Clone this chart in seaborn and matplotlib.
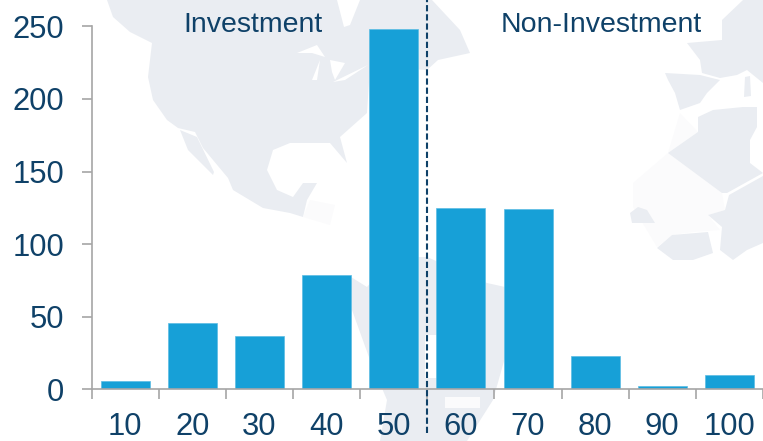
"""Rating distribution bars, investment vs non-investment, over a pale world map."""
import matplotlib
matplotlib.use('Agg')
import matplotlib.pyplot as plt
import numpy as np
import pandas as pd
import seaborn as sns
from matplotlib.patches import Polygon

SCORES = ['10', '20', '30', '40', '50', '60', '70', '80', '90', '100']
COUNTS = [6, 46, 37, 79, 248, 125, 124, 23, 2, 10]
Y_TICKS = [0, 50, 100, 150, 200, 250]

BAR = '#17a0d7'
BAR_EDGE = '#5cbce3'
INK = '#0f4168'
AXIS = '#a6a6a6'
LAND = '#eaedf2'
PALE = '#fbfbfc'
W, H = 763, 441

# backdrop outlines, in picture pixels
LAND_SHAPES = [
    # north america
    (LAND, [(107, 0), (113, 17), (130, 32), (152, 43), (148, 77), (153, 100), (167, 120), (178, 128),
            (195, 132), (203, 148), (228, 178), (233, 190), (263, 208), (290, 213), (303, 217), (307, 200),
            (317, 183), (303, 183), (293, 197), (277, 190), (267, 170), (273, 150), (290, 143), (330, 143),
            (347, 163), (340, 137), (367, 113), (370, 67), (427, 70), (438, 60), (470, 53), (460, 30),
            (432, 0)]),
    (LAND, [(180, 130), (188, 150), (213, 175), (214, 172), (197, 137)]),
    (PALE, [(303, 217), (330, 225), (335, 205), (310, 200)]),
    # south america
    (LAND, [(351, 277), (367, 287), (373, 280), (413, 257), (427, 257), (487, 283), (505, 287), (510, 340),
            (493, 400), (467, 441), (380, 441), (387, 400), (370, 360), (352, 310)]),
    ('white', [(425, 335), (438, 335), (438, 378), (425, 378)]),
    (PALE, [(445, 397), (480, 397), (480, 408), (445, 408)]),
    # europe and africa
    (PALE, [(668, 153), (633, 183), (633, 207), (657, 247), (672, 235), (693, 232), (720, 230), (708, 215),
            (725, 210), (722, 193), (698, 132), (680, 113)]),
    (LAND, [(687, 43), (722, 40), (722, 20), (743, 0), (763, 0), (763, 83), (747, 70), (737, 75), (720, 78),
            (702, 73), (700, 60)]),
    (LAND, [(745, 77), (750, 76), (751, 96), (744, 97)]),
    (LAND, [(665, 73), (700, 75), (720, 80), (707, 93), (700, 103), (680, 110), (675, 93), (668, 80)]),
    (LAND, [(668, 153), (698, 132), (698, 117), (713, 110), (743, 107), (757, 107), (757, 127), (750, 140),
            (750, 163), (763, 173), (727, 193), (722, 193)]),
    (LAND, [(763, 176), (729, 195), (725, 210), (708, 215), (722, 227), (720, 250), (733, 260), (747, 250),
            (763, 243)]),
    (LAND, [(630, 213), (638, 207), (647, 210), (655, 223), (632, 223)]),
    (LAND, [(657, 248), (672, 235), (708, 232), (713, 253), (693, 260), (673, 260)]),
    # great lakes and hudson bay
    ('white', [(297, 53), (317, 45), (325, 57), (312, 53)]),
    ('white', [(312, 80), (320, 60), (317, 80)]),
    ('white', [(330, 60), (345, 63), (335, 80), (332, 72)]),
    ('white', [(333, 82), (368, 65), (345, 80)]),
    ('white', [(337, 0), (360, 0), (350, 25), (344, 27)]),
]


def _draw_map(fig):
    back = fig.add_axes([0, 0, 1, 1], zorder=0)
    back.set_xlim(0, W)
    back.set_ylim(H, 0)
    back.set_axis_off()
    for color, pts in LAND_SHAPES:
        back.add_patch(Polygon(pts, closed=True, facecolor=color, edgecolor='none'))


def main():
    sns.set_theme(style='white')
    plt.rcParams['font.family'] = ['Liberation Sans', 'DejaVu Sans']

    df = pd.DataFrame({'score': SCORES, 'count': COUNTS})

    fig = plt.figure(figsize=(W / 100, H / 100), dpi=100, facecolor='white')
    _draw_map(fig)

    ax = fig.add_axes([91.7 / W, (H - 389.3) / H, (763 - 91.7) / W, (389.3 - 26.4) / H], zorder=1)
    ax.patch.set_alpha(0)
    sns.barplot(data=df, x='score', y='count', color=BAR, saturation=1, width=0.73,
                edgecolor=BAR_EDGE, linewidth=0.5, ax=ax)

    ax.set_xlim(-0.5, len(SCORES) - 0.5)
    ax.set_ylim(Y_TICKS[0], Y_TICKS[-1])
    ax.set_xlabel('')
    ax.set_ylabel('')

    # ticks sit between the bars, labels under the bars
    ax.set_xticks(np.arange(len(SCORES) + 1) - 0.5, labels=[''] * (len(SCORES) + 1))
    ax.set_xticks(np.arange(len(SCORES)), labels=SCORES, minor=True)
    ax.set_yticks(Y_TICKS)
    ax.tick_params(axis='x', which='major', length=7, width=1.2, color=AXIS, bottom=True)
    ax.tick_params(axis='x', which='minor', length=0, pad=16, labelsize=22.3, labelcolor=INK, bottom=True)
    ax.tick_params(axis='y', length=7, width=1.2, color=AXIS, pad=13, labelsize=22.3, labelcolor=INK, left=True)

    for side in ['top', 'right']:
        ax.spines[side].set_visible(False)
    for side in ['left', 'bottom']:
        ax.spines[side].set_color(AXIS)
        ax.spines[side].set_linewidth(1.2)

    ax.plot([4.5, 4.5], [-30, 268], color=INK, lw=1.5, ls=(0, (3, 1.4)), clip_on=False, zorder=5)
    ax.text(1.9, 251, 'Investment', ha='center', va='center', fontsize=20.5, color=INK)
    ax.text(7.09, 251, 'Non-Investment', ha='center', va='center', fontsize=20.5, color=INK)

    fig.savefig('out.png', dpi=100, facecolor='white')


if __name__ == '__main__':
    main()
